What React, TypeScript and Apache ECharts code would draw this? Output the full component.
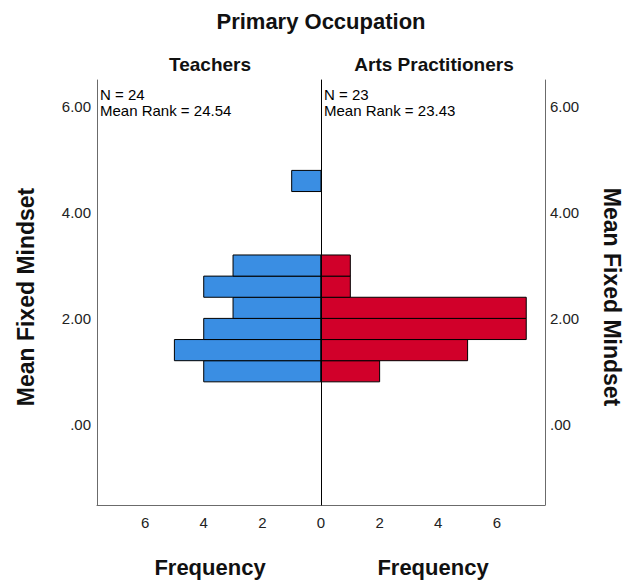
import React, { useEffect, useRef } from "react";
import * as echarts from "echarts";

// Histogram bins of "Mean Fixed Mindset" (lower edges, width 0.4)
const binStarts = [0.8, 1.2, 1.6, 2.0, 2.4, 2.8, 3.2, 3.6, 4.0, 4.4];
const binWidth = 0.4;
const teacherCounts = [4, 5, 4, 3, 4, 3, 0, 0, 0, 1];
const artsCounts = [2, 5, 7, 7, 1, 1, 0, 0, 0, 0];

const groupNames = ["Teachers", "Arts Practitioners"];
const groupN = [24, 23];
const meanRanks = ["24.54", "23.43"];

const chartTitle = "Primary Occupation";
const yTitle = "Mean Fixed Mindset";
const xTitle = "Frequency";

const yMin = -1.53;
const yMax = 6.51;
const freqMax = 7.64;

const FONT = 'Arial, "Liberation Sans", sans-serif';
const BLUE = "#3a8ee3";
const RED = "#d1002a";

function toItems(counts: number[]) {
  const out: number[][] = [];
  counts.forEach((c, i) => {
    if (c > 0) out.push([binStarts[i], binStarts[i] + binWidth, c]);
  });
  return out;
}

function makeRender(color: string) {
  return (params: any, api: any) => {
    const y0 = api.value(0);
    const y1 = api.value(1);
    const c = api.value(2);
    const p0 = api.coord([0, y1]);
    const p1 = api.coord([c, y0]);
    const x = Math.min(p0[0], p1[0]);
    const y = Math.min(p0[1], p1[1]);
    return {
      type: "rect",
      shape: {
        x,
        y,
        width: Math.abs(p1[0] - p0[0]),
        height: Math.abs(p1[1] - p0[1]),
      },
      style: { fill: color, stroke: "#000", lineWidth: 1 },
    };
  };
}

const yLabelFormatter = (v: number) => {
  const r = Math.round(v / 2) * 2;
  if (Math.abs(v - r) > 1e-6) return "";
  return r === 0 ? ".00" : r.toFixed(2);
};

function smallText(x: number, y: number, text: string) {
  return {
    type: "text",
    x,
    y,
    style: {
      text,
      font: `15px ${FONT}`,
      lineHeight: 16,
      fill: "#000",
      textAlign: "left",
      textVerticalAlign: "top",
    },
  };
}

export default function App() {
  const ref = useRef<HTMLDivElement>(null);
  useEffect(() => {
    if (!ref.current) return;
    const chart = echarts.init(ref.current, undefined, { renderer: "svg" });
    const axisGray = "#6b6b6b";
    const xLabel = {
      color: "#222",
      fontSize: 15,
      fontFamily: FONT,
      margin: 10,
    };
    const yAxisBase = {
      type: "value",
      min: yMin,
      max: yMax,
      minInterval: 2,
      maxInterval: 2,
      splitLine: { show: false },
      axisTick: { show: false },
    };
    const option: any = {
      animation: false,
      backgroundColor: "#fff",
      grid: [
        { left: 97, top: 80, width: 224, height: 425 },
        { left: 321, top: 80, width: 224, height: 425 },
      ],
      xAxis: [
        {
          type: "value",
          gridIndex: 0,
          inverse: true,
          min: 0,
          max: freqMax,
          interval: 2,
          splitLine: { show: false },
          axisTick: { show: false },
          axisLine: { onZero: false, lineStyle: { color: axisGray, width: 1 } },
          axisLabel: {
            ...xLabel,
            formatter: (v: number) => (Number.isInteger(v) ? String(v) : ""),
          },
        },
        {
          type: "value",
          gridIndex: 1,
          min: 0,
          max: freqMax,
          interval: 2,
          splitLine: { show: false },
          axisTick: { show: false },
          axisLine: { onZero: false, lineStyle: { color: axisGray, width: 1 } },
          axisLabel: {
            ...xLabel,
            formatter: (v: number) =>
              Number.isInteger(v) && v !== 0 ? String(v) : "",
          },
        },
      ],
      yAxis: [
        {
          ...yAxisBase,
          gridIndex: 0,
          position: "left",
          axisLine: {
            show: true,
            onZero: false,
            lineStyle: { color: axisGray, width: 1 },
          },
          axisLabel: {
            color: "#222",
            fontSize: 15,
            fontFamily: FONT,
            margin: 6,
            formatter: yLabelFormatter,
          },
        },
        {
          ...yAxisBase,
          gridIndex: 1,
          position: "right",
          axisLine: {
            show: true,
            onZero: false,
            lineStyle: { color: axisGray, width: 1 },
          },
          axisLabel: {
            color: "#222",
            fontSize: 15,
            fontFamily: FONT,
            margin: 5,
            formatter: yLabelFormatter,
          },
        },
        {
          ...yAxisBase,
          gridIndex: 1,
          position: "left",
          axisLabel: { show: false },
          axisLine: {
            show: true,
            onZero: false,
            lineStyle: { color: "#000", width: 1 },
          },
          z: 5,
        },
      ],
      series: [
        {
          type: "custom",
          name: groupNames[0],
          xAxisIndex: 0,
          yAxisIndex: 0,
          renderItem: makeRender(BLUE),
          encode: { x: 2, y: [0, 1] },
          data: toItems(teacherCounts),
        },
        {
          type: "custom",
          name: groupNames[1],
          xAxisIndex: 1,
          yAxisIndex: 1,
          renderItem: makeRender(RED),
          encode: { x: 2, y: [0, 1] },
          data: toItems(artsCounts),
        },
      ],
      graphic: [
        {
          type: "text",
          x: 321,
          y: 21,
          style: {
            text: chartTitle,
            font: `bold 22px ${FONT}`,
            fill: "#111",
            textAlign: "center",
            textVerticalAlign: "middle",
          },
        },
        {
          type: "text",
          x: 210,
          y: 64,
          style: {
            text: groupNames[0],
            font: `bold 19px ${FONT}`,
            fill: "#111",
            textAlign: "center",
            textVerticalAlign: "middle",
          },
        },
        {
          type: "text",
          x: 434,
          y: 64,
          style: {
            text: groupNames[1],
            font: `bold 19px ${FONT}`,
            fill: "#111",
            textAlign: "center",
            textVerticalAlign: "middle",
          },
        },
        smallText(100, 86, `N = ${groupN[0]}`),
        smallText(100, 102, `Mean Rank = ${meanRanks[0]}`),
        smallText(324, 86, `N = ${groupN[1]}`),
        smallText(324, 102, `Mean Rank = ${meanRanks[1]}`),
        {
          type: "text",
          x: 210,
          y: 567,
          style: {
            text: xTitle,
            font: `bold 22px ${FONT}`,
            fill: "#111",
            textAlign: "center",
            textVerticalAlign: "middle",
          },
        },
        {
          type: "text",
          x: 433,
          y: 567,
          style: {
            text: xTitle,
            font: `bold 22px ${FONT}`,
            fill: "#111",
            textAlign: "center",
            textVerticalAlign: "middle",
          },
        },
        {
          type: "text",
          x: 26,
          y: 297,
          rotation: Math.PI / 2,
          style: {
            text: yTitle,
            font: `bold 23px ${FONT}`,
            fill: "#111",
            textAlign: "center",
            textVerticalAlign: "middle",
          },
        },
        {
          type: "text",
          x: 612,
          y: 297,
          rotation: -Math.PI / 2,
          style: {
            text: yTitle,
            font: `bold 23px ${FONT}`,
            fill: "#111",
            textAlign: "center",
            textVerticalAlign: "middle",
          },
        },
      ],
    };
    chart.setOption(option);
    return () => chart.dispose();
  }, []);
  return (
    <div
      ref={ref}
      style={{ position: "absolute", left: 0, top: 0, width: 626, height: 581 }}
    />
  );
}
